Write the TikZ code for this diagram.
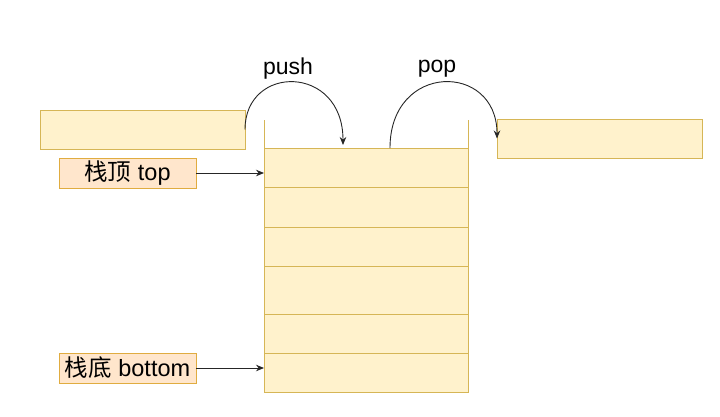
\documentclass[tikz,border=0pt]{standalone}
\usepackage{fontspec}
\setmainfont{Liberation Sans}
\newfontfamily\cjk{Noto Sans CJK SC}
\usetikzlibrary{arrows.meta}
\definecolor{yfill}{HTML}{FFF2CC}
\definecolor{ydraw}{HTML}{D6B656}
\definecolor{ofill}{HTML}{FFE6CC}
\definecolor{odraw}{HTML}{E0AC40}
\begin{document}
\begin{tikzpicture}[x=1pt,y=-1pt,
  cell/.style={draw=ydraw,fill=yfill,line width=0.9pt,minimum width=204pt,inner sep=0pt,outer sep=0pt},
  slot/.style={draw=ydraw,fill=yfill,line width=0.9pt,minimum width=205pt,minimum height=39pt,inner sep=0pt,outer sep=0pt},
  lbl/.style={draw=odraw,fill=ofill,line width=0.9pt,minimum width=137pt,minimum height=30pt,inner sep=0pt,outer sep=0pt,font=\fontsize{23.5}{25}\selectfont},
  op/.style={font=\fontsize{23}{25}\selectfont,inner sep=0pt},
  arr/.style={draw=black!85,line width=0.9pt,-{Stealth[length=8pt,width=6.5pt]}}]
\useasboundingbox (0,0) rectangle (720,416);
% stack rows
\node[cell,minimum height=39pt] (r1) at (366,167.5) {};
\node[cell,minimum height=40pt] (r2) at (366,207) {};
\node[cell,minimum height=39pt] (r3) at (366,246.5) {};
\node[cell,minimum height=48pt] (r4) at (366,290) {};
\node[cell,minimum height=39pt] (r5) at (366,333.5) {};
\node[cell,minimum height=39pt] (r6) at (366,372.5) {};
\coordinate (lt) at (264,120);
\coordinate (rt) at (468,120);
\draw[draw=ydraw,line width=0.9pt] (lt) -- (lt |- r1.north);
\draw[draw=ydraw,line width=0.9pt] (rt) -- (rt |- r1.north);
% side slots
\node[slot] (inbox) at (142.5,129.5) {};
\node[slot] (outbox) at (599.5,138.5) {};
% labels
\node[lbl] (top) at (127.5,173) {{\cjk 栈顶} top};
\node[lbl] (bot) at (127.5,368) {{\cjk 栈底} bottom};
\draw[arr] (top.east) -- (top.east -| r1.west);
\draw[arr] (bot.east) -- (bot.east -| r6.west);
% push / pop
\coordinate (pushend) at (343,145);
\coordinate (popstart) at (390,148);
\draw[arr] (inbox.east) .. controls (245,64) and (343,64) .. (pushend);
\draw[arr] (popstart) .. controls (390,62) and (497,62) .. (outbox.west);
\node[op] (push) at (288,69) {push};
\node[op] (pop) at (437,69) {pop};
\end{tikzpicture}
\end{document}
